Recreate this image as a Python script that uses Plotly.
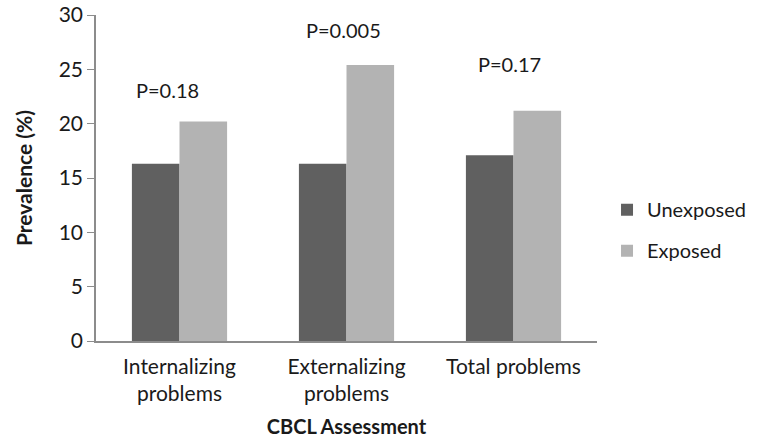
import plotly.graph_objects as go

categories = ["Internalizing<br>problems", "Externalizing<br>problems", "Total problems"]
unexposed = [16.3, 16.3, 17.1]
exposed = [20.2, 25.4, 21.2]
p_labels = ["P=0.18", "P=0.005", "P=0.17"]
p_label_y = [23.1, 28.6, 25.5]

FONT = "Lato, 'Open Sans', sans-serif"
TXT = "#1a1a1a"

fig = go.Figure()
fig.add_trace(go.Bar(name="Unexposed", x=categories, y=unexposed,
                     marker=dict(color="#606060", line=dict(width=0)),
                     legendgroup="a"))
fig.add_trace(go.Bar(name="Exposed", x=categories, y=exposed,
                     marker=dict(color="#b3b3b3", line=dict(width=0)),
                     legendgroup="b"))

label_shift = [-12, -3, -4]
for c, t, yy, dx in zip(categories, p_labels, p_label_y, label_shift):
    fig.add_annotation(x=c, y=yy, text=t, showarrow=False, xref="x", yref="y",
                       xshift=dx, font=dict(family=FONT, size=20, color=TXT))

fig.update_layout(
    width=757, height=444,
    margin=dict(l=96, r=160, t=15, b=103, autoexpand=False),
    paper_bgcolor="white", plot_bgcolor="white",
    barmode="group", bargap=0.43, bargroupgap=0,
    font=dict(family=FONT, size=20, color=TXT),
    legend=dict(x=1.02, y=0.34, xanchor="left", yanchor="middle",
                font=dict(family=FONT, size=20, color=TXT),
                tracegroupgap=12, bgcolor="rgba(0,0,0,0)"),
    xaxis=dict(showline=True, linecolor="#8c8c8c", linewidth=1.5,
               ticks="", showgrid=False, automargin=False,
               ticklabelstandoff=6,
               tickfont=dict(family=FONT, size=21, color=TXT),
               title=dict(text="<b>CBCL Assessment</b>", standoff=16,
                          font=dict(family=FONT, size=20, color=TXT))),
    yaxis=dict(range=[0, 30], dtick=5, showline=True, linecolor="#8c8c8c",
               linewidth=1.5, ticks="outside", ticklen=7, tickcolor="#8c8c8c",
               showgrid=False, zeroline=False, automargin=False,
               tickfont=dict(family=FONT, size=21, color=TXT),
               title=dict(text="<b>Prevalence (%)</b>", standoff=20,
                          font=dict(family=FONT, size=21, color=TXT))),
)

fig.write_html("out.html", config={"displayModeBar": False},
               post_script="document.body.style.margin='0';document.body.style.padding='0';")
